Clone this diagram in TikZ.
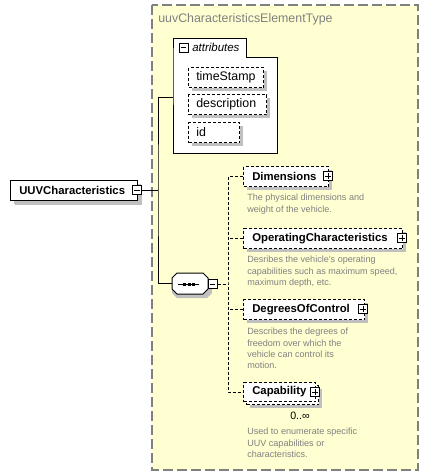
\documentclass[tikz,border=0pt]{standalone}
\usepackage{fontspec}
\setmainfont{Liberation Sans}
\usetikzlibrary{shadows}
\definecolor{bgyellow}{RGB}{255,255,210}
\definecolor{frameg}{RGB}{128,128,128}
\definecolor{shad}{RGB}{192,192,192}
\definecolor{desccol}{RGB}{128,128,128}
\tikzset{
  frame/.style={draw=frameg, fill=bgyellow, line width=1pt, dash pattern=on 7.5pt off 3pt},
  boxbase/.style={draw, fill=white, inner sep=0, anchor=north west, line width=0.75pt},
  shd/.style={general shadow={fill=shad, shadow xshift=2.5pt, shadow yshift=-2.5pt}},
  elembox/.style={boxbase, shd},
  optbox/.style={boxbase, shd, dash pattern=on 2.25pt off 1.5pt},
  ename/.style={font=\bfseries\fontsize{8.5}{10}\selectfont, anchor=west, inner sep=0},
  aname/.style={font=\fontsize{9.3}{11}\selectfont, anchor=west, inner sep=0},
  desctext/.style={font=\fontsize{6.8}{8.5}\selectfont, text=desccol, align=left, anchor=north west, inner sep=0},
  minusbox/.style={draw, fill=white, minimum size=6.75pt, inner sep=0, line width=0.75pt,
    path picture={\draw[line width=0.75pt] ([xshift=1.3pt]path picture bounding box.west) -- ([xshift=-1.3pt]path picture bounding box.east);}},
  plusbox/.style={minusbox,
    path picture={\draw[line width=0.75pt] ([xshift=1.3pt]path picture bounding box.west) -- ([xshift=-1.3pt]path picture bounding box.east);
                  \draw[line width=0.75pt] ([yshift=-1.3pt]path picture bounding box.north) -- ([yshift=1.3pt]path picture bounding box.south);}},
  conn/.style={line width=0.75pt},
  dconn/.style={line width=0.75pt, dash pattern=on 2.25pt off 1.5pt},
}
\begin{document}
\begin{tikzpicture}[x=0.75pt, y=-0.75pt]
\useasboundingbox (0,0) rectangle (429,476);
% type frame
\path[frame] (152,5) rectangle (418,470);
\node[font=\fontsize{9.3}{11}\selectfont, text=frameg, anchor=west, inner sep=0] (title) at (158,19) {uuvCharacteristicsElementType};

% attributes group
\path[draw, fill=white, line width=0.75pt] (173,57) -- (173,38) -- (246,38) -- (246,57) -- (277,57) -- (277,153) -- (173,153) -- cycle;
\node[minusbox] (attrmin) at (183.5,47.5) {};
\node[font=\itshape\fontsize{8.6}{10}\selectfont, anchor=west, inner sep=0] (attrlbl) at (192,47) {attributes};
\coordinate (attrw) at (173,97);

\node[optbox, minimum width=56.25pt, minimum height=15pt] (ts) at (188,67) {};
\node[aname] (tst) at ([xshift=6pt]ts.west) {timeStamp};
\node[optbox, minimum width=58.5pt, minimum height=15pt] (de) at (188,94) {};
\node[aname] (det) at ([xshift=6pt]de.west) {description};
\node[optbox, minimum width=38.25pt, minimum height=15pt] (id) at (188,122) {};
\node[aname] (idt) at ([xshift=6pt]id.west) {id};

% root element
\node[elembox, general shadow={fill=shad, shadow xshift=3pt, shadow yshift=-3pt}, minimum width=95.25pt, minimum height=15pt] (uuv) at (10,180) {};
\node[ename] (uuvt) at ([xshift=6.75pt]uuv.west) {UUVCharacteristics};
\node[minusbox] (uuvmin) at (137,190) {};
\coordinate (jn) at (158,190);

% sequence compositor
\node[inner sep=0, minimum width=27pt, minimum height=15.75pt, anchor=north west] (seq) at (172,273) {};
\fill[shad] (177,277) -- (207,277) -- (212,282) -- (212,293) -- (207,298) -- (177,298) -- (172,293) -- (172,282) -- cycle;
\path[draw, fill=white, line width=0.75pt] (177,273) -- (203,273) -- (208,278) -- (208,289) -- (203,294) -- (177,294) -- (172,289) -- (172,278) -- cycle;
\draw[line width=0.75pt] (178,284) -- (199,284);
\fill (183,282.5) rectangle (186,285.5);
\fill (187.5,282.5) rectangle (190.5,285.5);
\fill (192,282.5) rectangle (195,285.5);
\node[minusbox] (seqmin) at (212.5,284) {};
\coordinate (sj) at (228,284);

% children
\node[optbox, minimum width=63.75pt, minimum height=15pt] (dim) at (243,166) {};
\node[ename] (dimt) at ([xshift=6.75pt]dim.west) {Dimensions};
\node[plusbox] (dimp) at (328,176) {};
\node[desctext] (dimd) at (247,194) {The physical dimensions and\\weight of the vehicle.};

\node[optbox, minimum width=119.25pt, minimum height=15pt] (op) at (243,228) {};
\node[ename] (opt) at ([xshift=6.75pt]op.west) {OperatingCharacteristics};
\node[plusbox] (opp) at (402,238) {};
\node[desctext] (opd) at (247,256) {Desribes the vehicle's operating\\capabilities such as maximum speed,\\maximum depth, etc.};

\node[optbox, minimum width=90.75pt, minimum height=15pt] (doc) at (243,299) {};
\node[ename] (doct) at ([xshift=6.75pt]doc.west) {DegreesOfControl};
\node[plusbox] (docp) at (363,309) {};
\node[desctext] (docd) at (247,328) {Describes the degrees of\\freedom over which the\\vehicle can control its\\motion.};

\node[optbox, minimum width=54pt, minimum height=14.25pt] (capb) at (246,385) {};
\node[boxbase, dash pattern=on 2.25pt off 1.5pt, minimum width=54pt, minimum height=14.25pt] (cap) at (243,382) {};
\node[ename] (capt) at ([xshift=6.75pt]cap.west) {Capability};
\node[plusbox] (capp) at (315,392) {};
\node[font=\fontsize{8}{10}\selectfont, inner sep=0] (capocc) at (300,416) {0..∞};
\node[desctext] (capd) at (247,428) {Used to enumerate specific\\UUV capabilities or\\characteristics.};

% connectors
\draw[conn] (uuvmin.east) -- (jn);
\draw[conn] (attrw) -| (jn) |- (seq.west);
\draw[dconn] (seqmin.east) -- (sj);
\draw[dconn] (dim.west) -| (sj) |- (cap.west);
\draw[dconn] (op.west) -- (op.west -| sj);
\draw[dconn] (doc.west) -- (doc.west -| sj);
\end{tikzpicture}
\end{document}
